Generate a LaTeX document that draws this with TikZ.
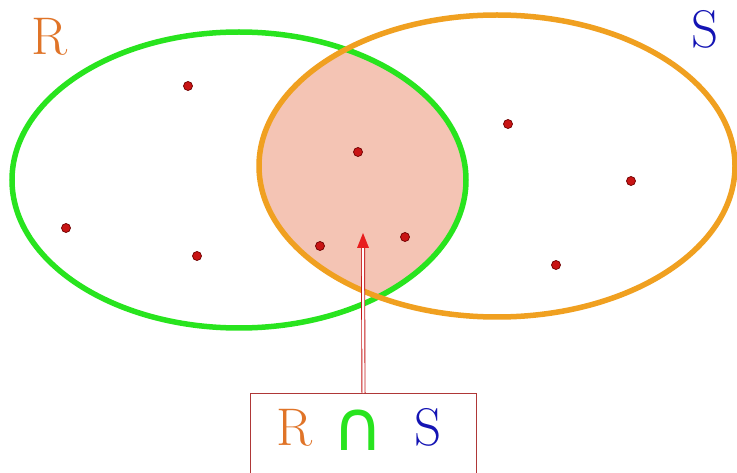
\documentclass[tikz,border=0pt]{standalone}
\usepackage{fontspec}
\newfontfamily\capfont{DejaVu Sans}
\usetikzlibrary{calc}
\definecolor{rgreen}{RGB}{40,228,30}
\definecolor{sorange}{RGB}{240,160,32}
\definecolor{pinkfill}{RGB}{244,196,180}
\definecolor{dotred}{RGB}{200,20,20}
\definecolor{dotdark}{RGB}{110,0,0}
\definecolor{rtext}{RGB}{224,116,40}
\definecolor{stext}{RGB}{20,20,180}
\definecolor{boxred}{RGB}{175,55,55}
\definecolor{arrred}{RGB}{232,30,30}
\tikzset{
  dot/.style={circle, inner sep=0pt, minimum size=9pt, fill=dotred, draw=dotdark, line width=0.7pt},
  setlabel/.style={inner sep=0pt, anchor=base, font=\fontsize{53}{60}\selectfont},
  boxst/.style={draw=boxred, line width=1pt, rectangle, inner sep=0pt, anchor=north west},
  shaft/.style={draw=arrred!85!black, line width=0.9pt, double=white, double distance=2.2pt}
}
\begin{document}
\begin{tikzpicture}[x=1pt,y=-1pt]
\useasboundingbox (0,0) rectangle (737,473);
\fill[white] (0,0) rectangle (737,473);
% intersection fill
\begin{scope}
  \clip (239,180) ellipse [x radius=227pt, y radius=148pt];
  \fill[pinkfill] (497,166) ellipse [x radius=238pt, y radius=151pt];
\end{scope}
% sets
\draw[rgreen, line width=5.5pt] (239,180) ellipse [x radius=227pt, y radius=148pt];
\draw[sorange, line width=5.5pt] (497,166) ellipse [x radius=238pt, y radius=151pt];
% labels
\node[setlabel, text=rtext] (rname) at (50,55) {R};
\node[setlabel, text=stext] (sname) at (705,48) {S};
% elements
\node[dot] (d1) at (188,86) {};
\node[dot] (d2) at (66,228) {};
\node[dot] (d3) at (197,256) {};
\node[dot] (d4) at (358,152) {};
\node[dot] (d5) at (320,246) {};
\node[dot] (d6) at (405,237) {};
\node[dot] (d7) at (508,124) {};
\node[dot] (d8) at (631,181) {};
\node[dot] (d9) at (556,265) {};
% box
\node[boxst, minimum width=226pt, minimum height=100pt] (box) at (250,393) {};
\node[setlabel, text=rtext] (br) at (295,445) {R};
\node[inner sep=0pt, anchor=base, text=rgreen, font=\capfont\fontsize{70}{80}\selectfont] (bcap) at (358,450) {∩};
\node[setlabel, text=stext] (bs) at (428,445) {S};
% arrow
\coordinate (tipbase) at (363,248);
\coordinate (tip) at (363,233);
\draw[shaft] (box.north) -- (tipbase);
\fill[arrred] (tip) -- ($(tip)+(-6,15)$) -- ($(tip)+(6,15)$) -- cycle;
\end{tikzpicture}
\end{document}
